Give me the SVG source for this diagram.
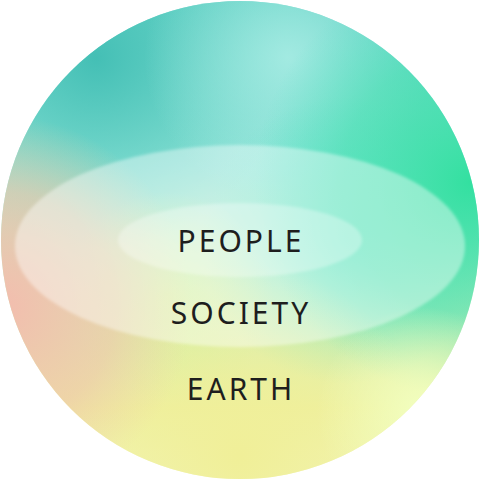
<svg xmlns="http://www.w3.org/2000/svg" width="480" height="480" viewBox="0 0 480 480">
  <defs>
    <clipPath id="disc"><circle cx="240" cy="240" r="239"/></clipPath>
    <linearGradient id="base" x1="0" y1="0" x2="0" y2="1">
      <stop offset="0" stop-color="#5ccfc2"/>
      <stop offset="0.35" stop-color="#8fe3d6"/>
      <stop offset="0.6" stop-color="#c8eec0"/>
      <stop offset="0.85" stop-color="#eef0a0"/>
      <stop offset="1" stop-color="#f2f5b8"/>
    </linearGradient>
    <radialGradient id="pink" cx="0.0" cy="0.64" r="0.4">
      <stop offset="0" stop-color="#f3bcae" stop-opacity="1"/>
      <stop offset="0.6" stop-color="#f0c6aa" stop-opacity="0.65"/>
      <stop offset="1" stop-color="#f0d0a8" stop-opacity="0"/>
    </radialGradient>
    <radialGradient id="green" cx="0.98" cy="0.38" r="0.45">
      <stop offset="0" stop-color="#33e0a0" stop-opacity="1"/>
      <stop offset="0.6" stop-color="#45e0b0" stop-opacity="0.6"/>
      <stop offset="1" stop-color="#50e0c0" stop-opacity="0"/>
    </radialGradient>
    <radialGradient id="mint" cx="0.72" cy="0.5" r="0.3">
      <stop offset="0" stop-color="#5ee8c8" stop-opacity="0.85"/>
      <stop offset="1" stop-color="#5ee8c8" stop-opacity="0"/>
    </radialGradient>
    <radialGradient id="lime" cx="0.35" cy="0.62" r="0.22">
      <stop offset="0" stop-color="#d6f29c" stop-opacity="0.8"/>
      <stop offset="1" stop-color="#d6f29c" stop-opacity="0"/>
    </radialGradient>
    <radialGradient id="teal" cx="0.2" cy="0.12" r="0.4">
      <stop offset="0" stop-color="#44bfb5" stop-opacity="1"/>
      <stop offset="1" stop-color="#60cfc4" stop-opacity="0"/>
    </radialGradient>
    <radialGradient id="topLight" cx="0.6" cy="0.12" r="0.3">
      <stop offset="0" stop-color="#a8ece4" stop-opacity="0.9"/>
      <stop offset="1" stop-color="#a8ece4" stop-opacity="0"/>
    </radialGradient>
    <radialGradient id="yellow" cx="0.5" cy="0.95" r="0.4">
      <stop offset="0" stop-color="#f0ef98" stop-opacity="1"/>
      <stop offset="1" stop-color="#f0ef98" stop-opacity="0"/>
    </radialGradient>
    <radialGradient id="paleYellow" cx="0.88" cy="0.86" r="0.22">
      <stop offset="0" stop-color="#f2ffc0" stop-opacity="1"/>
      <stop offset="1" stop-color="#f2ffc0" stop-opacity="0"/>
    </radialGradient>
    <filter id="soft" x="-10%" y="-10%" width="120%" height="120%">
      <feGaussianBlur stdDeviation="1.5"/>
    </filter>
    <style>
      .label { font-family: "Noto Sans", "Open Sans", "DejaVu Sans", sans-serif; font-size: 30px; fill: #1e1e1e; letter-spacing: 3px; text-anchor: middle; }
    </style>
  </defs>

  <g id="background" clip-path="url(#disc)">
    <rect x="0" y="0" width="480" height="480" fill="url(#base)"/>
    <rect x="0" y="0" width="480" height="480" fill="url(#teal)"/>
    <rect x="0" y="0" width="480" height="480" fill="url(#topLight)"/>
    <rect x="0" y="0" width="480" height="480" fill="url(#mint)"/>
    <rect x="0" y="0" width="480" height="480" fill="url(#green)"/>
    <rect x="0" y="0" width="480" height="480" fill="url(#lime)"/>
    <rect x="0" y="0" width="480" height="480" fill="url(#yellow)"/>
    <rect x="0" y="0" width="480" height="480" fill="url(#pink)"/>
    <rect x="0" y="0" width="480" height="480" fill="url(#paleYellow)"/>
  </g>

  <g id="earth">
    <text class="label" x="241" y="400">EARTH</text>
  </g>

  <g id="society">
    <ellipse cx="240" cy="246" rx="225" ry="101" fill="#ffffff" fill-opacity="0.4" filter="url(#soft)"/>
    <text class="label" x="241" y="324">SOCIETY</text>
  </g>

  <g id="people">
    <ellipse cx="240" cy="240" rx="122" ry="37" fill="#ffffff" fill-opacity="0.3" filter="url(#soft)"/>
    <text class="label" x="241" y="252">PEOPLE</text>
  </g>

  <g id="connectors"/>
</svg>
